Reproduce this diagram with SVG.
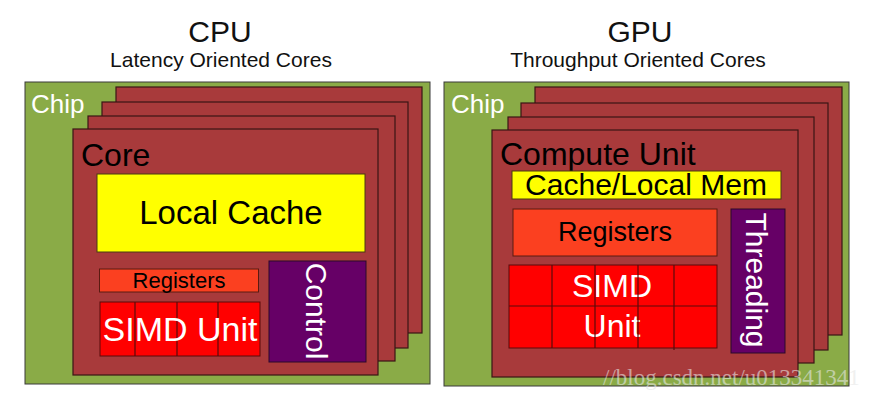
<svg xmlns="http://www.w3.org/2000/svg" width="873" height="400" viewBox="0 0 873 400">
<style>
text{font-family:"Liberation Sans",Arial,sans-serif}
.title{font-size:30px;fill:#111;text-anchor:middle}
.sub{font-size:21px;fill:#111;text-anchor:middle}
.chip{fill:#8aab47;stroke:#3a3a3a;stroke-width:1}
.chipt{font-size:26px;fill:#fff}
.card{fill:#a83a3b;stroke:#3a1515;stroke-width:1.2}
.coret{font-size:32px;fill:#000}
.cache{fill:#ffff00;stroke:#4a3a10;stroke-width:1}
.reg{fill:#fb4020;stroke:#5a1a10;stroke-width:1}
.simd{fill:#ff0000;stroke:#5a0a0a;stroke-width:1}
.ctl{fill:#660066;stroke:#2a0a2a;stroke-width:1}
.grid{stroke:#5a0a0a;stroke-width:1.2;fill:none}
.blk{fill:#000;text-anchor:middle}
.wht{fill:#fff;text-anchor:middle}
.wm{font-family:"Liberation Serif","Times New Roman",serif;font-size:23px;fill:#e6e6e6;fill-opacity:0.6}
</style>
<rect width="873" height="400" fill="#fff"/>

<g id="cpu-title">
<text class="title" x="220" y="42">CPU</text>
<text class="sub" x="221" y="67">Latency Oriented Cores</text>
</g>
<g id="gpu-title">
<text class="title" x="640" y="42">GPU</text>
<text class="sub" x="638" y="67">Throughput Oriented Cores</text>
</g>

<g id="cpu-chip">
<rect class="chip" x="25" y="82" width="405" height="302"/>
<text class="chipt" x="31" y="113">Chip</text>
</g>
<g id="cpu-cores-back">
<rect class="card" x="116" y="87" width="306" height="246"/>
<rect class="card" x="102" y="102" width="306" height="246"/>
<rect class="card" x="88" y="116" width="307" height="245"/>
</g>
<g id="cpu-core">
<rect class="card" x="73" y="129" width="305" height="246"/>
<text class="coret" x="81" y="166">Core</text>
</g>
<g id="cpu-cache">
<rect class="cache" x="97" y="174" width="268" height="78"/>
<text class="blk" x="231" y="224" font-size="33">Local Cache</text>
</g>
<g id="cpu-registers">
<rect class="reg" x="99.5" y="269" width="159" height="23"/>
<text class="blk" x="179" y="288" font-size="22">Registers</text>
</g>
<g id="cpu-simd">
<rect class="simd" x="100" y="302" width="160" height="54"/>
<path class="grid" d="M135 302V356M177 302V356M218 302V356"/>
<text class="wht" x="180" y="341" font-size="34">SIMD Unit</text>
</g>
<g id="cpu-control">
<rect class="ctl" x="269" y="261" width="97" height="101"/>
<text class="wht" font-size="30" transform="translate(306 311) rotate(90)">Control</text>
</g>

<g id="gpu-chip">
<rect class="chip" x="444" y="82" width="405" height="304"/>
<text class="chipt" x="451" y="113">Chip</text>
</g>
<g id="gpu-units-back">
<rect class="card" x="535" y="87" width="307" height="248"/>
<rect class="card" x="521" y="103" width="307" height="247"/>
<rect class="card" x="508" y="117" width="306" height="246"/>
</g>
<g id="gpu-compute-unit">
<rect class="card" x="492" y="130" width="306" height="247"/>
<text class="coret" x="500" y="165">Compute Unit</text>
</g>
<g id="gpu-cache">
<rect class="cache" x="512" y="171" width="269" height="28"/>
<text class="blk" x="646" y="195" font-size="30">Cache/Local Mem</text>
</g>
<g id="gpu-registers">
<rect class="reg" x="513" y="209" width="204" height="47"/>
<text class="blk" x="615" y="241" font-size="27">Registers</text>
</g>
<g id="gpu-simd">
<rect class="simd" x="509" y="265" width="208" height="83"/>
<text class="wht" x="612" y="297" font-size="32">SIMD</text>
<text class="wht" x="612" y="337" font-size="32">Unit</text>
<path class="grid" d="M552 265V348M595 265V348M638 265V348M674 265V350M509 306H717"/>
</g>
<g id="gpu-threading">
<rect class="ctl" x="731" y="209" width="54" height="144"/>
<text class="wht" font-size="30" transform="translate(746 280) rotate(90)">Threading</text>
</g>

<text class="wm" x="603" y="385">//blog.csdn.net/u013341341</text>
</svg>
